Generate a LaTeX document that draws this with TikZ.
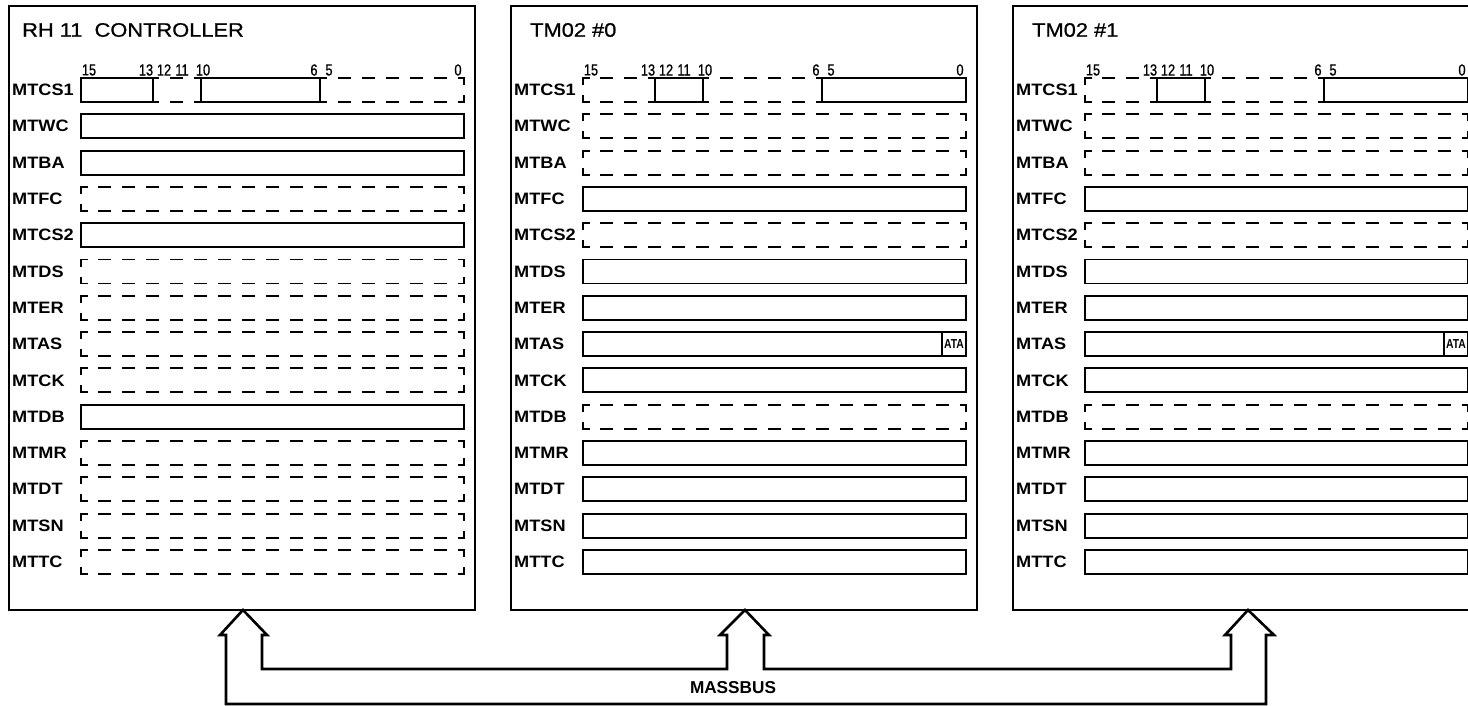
\documentclass[tikz,border=0pt]{standalone}
\usepackage{fontspec}
\setmainfont{Liberation Sans}
\newfontfamily\ttlfont[FakeStretch=1.12,FakeBold=0.8]{Liberation Sans}
\newfontfamily\lblfont[FakeStretch=1.1]{Liberation Sans}
\newfontfamily\bitfont[FakeStretch=0.8,FakeBold=0.8]{Liberation Sans}
\newfontfamily\atafont[FakeStretch=0.8]{Liberation Sans}
\tikzset{
  panelline/.style={line width=2.6pt,line join=miter},
  boxline/.style={line width=1.9pt},
  lbl/.style={anchor=west,inner sep=0pt,font=\lblfont\bfseries\fontsize{16.5}{16.5}\selectfont},
  bitlbl/.style={inner sep=0pt,font=\bitfont\fontsize{16}{16}\selectfont},
  ttl/.style={anchor=west,inner sep=0pt,font=\ttlfont\fontsize{19.5}{19.5}\selectfont},
  atalbl/.style={inner sep=0pt,font=\atafont\bfseries\fontsize{13}{13}\selectfont},
  buslbl/.style={inner sep=0pt,font=\bfseries\fontsize{17.2}{17.2}\selectfont}
}
\newcommand\bw{23.9375}
\def\typeS{S}
% solid segment: #1 box left, #2 hi bit, #3 lo bit, #4 row centre
\newcommand\sseg[4]{%
  \draw[boxline] ({#1+(15-#2)*\bw},#4-12) rectangle ({#1+(16-#3)*\bw},#4+12);}
% dashed segment: #5/#6 = draw left/right bracket
\newcommand\dseg[6]{%
  \pgfmathsetmacro\xa{#1+(15-#2)*\bw}%
  \pgfmathsetmacro\xb{#1+(16-#3)*\bw}%
  \draw[boxline,dash pattern=on 13pt off 10.9375pt,dash phase=6.5pt]
    (\xa,#4-12) -- (\xb,#4-12) (\xa,#4+12) -- (\xb,#4+12);
  \ifnum#5=1
    \draw[boxline,line join=miter] (\xa+6,#4-12) -- (\xa,#4-12) -- (\xa,#4-5)
      (\xa+6,#4+12) -- (\xa,#4+12) -- (\xa,#4+5);
  \fi
  \ifnum#6=1
    \draw[boxline,line join=miter] (\xb-6,#4-12) -- (\xb,#4-12) -- (\xb,#4-5)
      (\xb-6,#4+12) -- (\xb,#4+12) -- (\xb,#4+5);
  \fi}
% panel: #1 id, #2 left x, #3 title, #4 title offset, #5 rows
\newcommand\drawpanel[5]{%
  \pgfmathsetmacro\bx{#2+72}%
  \draw[panelline] (#2,6) rectangle (#2+466,610);
  \node[ttl] (t#1) at (#2+#4,30) {#3};
  \foreach \b/\o in {15/8,13/65,12/83,11/101,10/122,6/233,5/248,0/377}
    \node[bitlbl] (b#1-\b) at (\bx+\o,70) {\b};
  \node[lbl] (r#1-0) at (#2+3,90) {MTCS1};
  \foreach \nm/\tp [count=\i] in {#5} {
    \pgfmathsetmacro\yc{90+\i*36.3}
    \node[lbl] (r#1-\i) at (#2+3,\yc) {\nm};
    \ifx\tp\typeS \sseg{\bx}{15}{0}{\yc}\else \dseg{\bx}{15}{0}{\yc}{1}{1}\fi
  }}
\begin{document}
\begin{tikzpicture}[x=1pt,y=-1pt]
\useasboundingbox (0,0) rectangle (1468,706);
\clip (0,0) rectangle (1468,706);
\fill[white] (0,0) rectangle (1468,706);

% RH11 controller
\drawpanel{a}{9}{RH 11\ \ CONTROLLER}{13}{MTWC/S,MTBA/S,MTFC/D,MTCS2/S,MTDS/D,MTER/D,MTAS/D,MTCK/D,MTDB/S,MTMR/D,MTDT/D,MTSN/D,MTTC/D}
\sseg{81}{15}{13}{90}
\dseg{81}{12}{11}{90}{0}{0}
\sseg{81}{10}{6}{90}
\dseg{81}{5}{0}{90}{0}{1}

% TM02 #0
\drawpanel{b}{511}{TM02 \#0}{19}{MTWC/D,MTBA/D,MTFC/S,MTCS2/D,MTDS/S,MTER/S,MTAS/S,MTCK/S,MTDB/D,MTMR/S,MTDT/S,MTSN/S,MTTC/S}
\dseg{583}{15}{13}{90}{1}{0}
\sseg{583}{12}{11}{90}
\dseg{583}{10}{6}{90}{0}{0}
\sseg{583}{5}{0}{90}
\draw[boxline] (942,332.1) rectangle (966,356.1);
\node[atalbl] (ata0) at (954,344.1) {ATA};

% TM02 #1
\drawpanel{c}{1013}{TM02 \#1}{19}{MTWC/D,MTBA/D,MTFC/S,MTCS2/D,MTDS/S,MTER/S,MTAS/S,MTCK/S,MTDB/D,MTMR/S,MTDT/S,MTSN/S,MTTC/S}
\dseg{1085}{15}{13}{90}{1}{0}
\sseg{1085}{12}{11}{90}
\dseg{1085}{10}{6}{90}{0}{0}
\sseg{1085}{5}{0}{90}
\draw[boxline] (1444,332.1) rectangle (1468,356.1);
\node[atalbl] (ata1) at (1456,344.1) {ATA};

% MASSBUS
\coordinate (tipA) at (243,610);
\coordinate (tipB) at (745,610);
\coordinate (tipC) at (1248,610);
\draw[panelline]
  (226,704) -- (226,635) -- (220,635) -- (tipA) -- (267,635) -- (262,635)
  -- (262,669) -- (727,669) -- (727,635) -- (720,635) -- (tipB) -- (769,635)
  -- (764,635) -- (764,669) -- (1231,669) -- (1231,635) -- (1225,635)
  -- (tipC) -- (1274,635) -- (1266,635) -- (1266,704) -- cycle;
\node[buslbl] (bus) at (733,688) {MASSBUS};
\end{tikzpicture}
\end{document}
